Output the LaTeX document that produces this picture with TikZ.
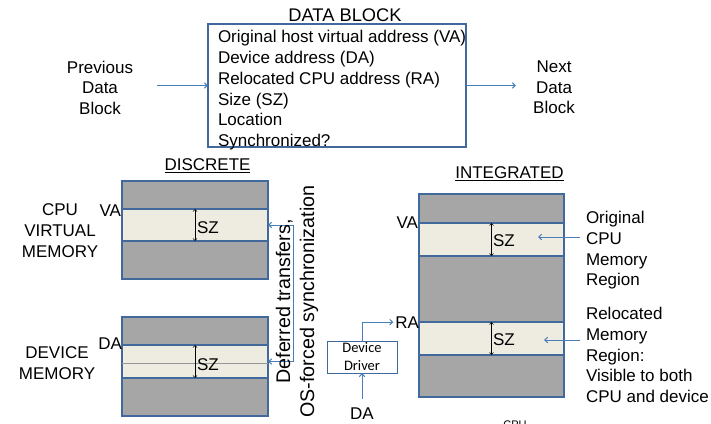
\documentclass[tikz,border=0pt]{standalone}
\usepackage{fontspec}
\setmainfont{Liberation Sans}
\newfontfamily\drvfont{Carlito}
\usetikzlibrary{arrows.meta}

\definecolor{boxblue}{RGB}{65,105,155}
\definecolor{arrowblue}{RGB}{74,126,187}
\definecolor{memgray}{RGB}{166,166,166}
\definecolor{bandfill}{RGB}{238,236,225}
\definecolor{midgray}{RGB}{150,150,150}

\begin{document}
\begin{tikzpicture}[x=1pt,y=-1pt,
  font=\fontsize{17}{20.7}\selectfont,
  lbl/.style={inner sep=0pt, outer sep=0pt, align=center},
  mem/.style={draw=boxblue, fill=memgray, line width=1.2pt, inner sep=0pt, outer sep=0pt, anchor=north west},
  band/.style={draw=boxblue, fill=bandfill, line width=1.2pt, inner sep=0pt, outer sep=0pt, anchor=north west},
  link/.style={draw=arrowblue, line width=1pt, -{Straight Barb[length=3pt,width=5.5pt]}},
  span/.style={draw=black, line width=0.5pt, {Straight Barb[length=2.2pt,width=4pt]}-{Straight Barb[length=2.2pt,width=4pt]}},
]
\useasboundingbox (0,0) rectangle (711,423);

% ---------- data block record ----------
\node[lbl, font=\fontsize{18.3}{22}\selectfont] (title) at (345,15) {DATA BLOCK};
\node[draw=boxblue, line width=1.2pt, inner sep=0pt, outer sep=0pt, anchor=north west,
      minimum width=258pt, minimum height=123pt] (dblock) at (208,24) {};
\node[lbl, align=left, anchor=north west] (fields) at (218,30.6)
  {Original host virtual address (VA)\\Device address (DA)\\Relocated CPU address (RA)\\Size (SZ)\\Location\\Synchronized?};

\node[lbl, anchor=north] (prev) at (100,60.8) {Previous\\Data\\Block};
\node[lbl, anchor=north] (next) at (554,60.8) {Next\\Data\\Block};
\coordinate (prevout) at (157,85.5);
\draw[link] (prevout) -- (dblock.west);
\coordinate (nextin) at (516,85.5);
\draw[link] (dblock.east) -- (nextin);

% ---------- discrete ----------
\node[lbl] (disc) at (207.5,166) {\underline{DISCRETE}};

\node[mem, minimum width=146pt, minimum height=98pt] (cpumem) at (122,181) {};
\node[band, minimum width=146pt, minimum height=32pt] (cpuband) at (122,209) {};
\draw[span] (cpuband.north) -- (cpuband.south);
\node[lbl, anchor=base west] (sz1) at (197,233) {SZ};
\node[lbl, anchor=base east] (va1) at (121,216) {VA};
\node[lbl, anchor=north] (cpuvm) at (60,204) {CPU\\VIRTUAL\\MEMORY};

\node[mem, minimum width=146pt, minimum height=99pt] (devmem) at (122,317) {};
\node[band, minimum width=146pt, minimum height=33pt] (devband) at (122,345) {};
\draw[midgray, line width=0.6pt] ([yshift=-1.5pt]devband.west) -- ([yshift=-1.5pt]devband.east);
\draw[span] (devband.north) -- (devband.south);
\node[lbl, anchor=base west] (sz2) at (197,370) {SZ};
\node[lbl, anchor=base east] (da1) at (122,349) {DA};
\node[lbl, anchor=north] (devm) at (57,347) {DEVICE\\MEMORY};

% transfers between the two address spaces
\draw[link, {Straight Barb[length=3pt,width=5.5pt]}-{Straight Barb[length=3pt,width=5.5pt]}]
  (cpuband.east) -- ++(25,0) |- (devband.east);
\node[lbl, rotate=90, font=\fontsize{19.7}{24}\selectfont] (sync) at (297,301.5)
  {Deferred transfers,\\OS-forced synchronization};

% ---------- integrated ----------
\node[lbl] (integ) at (509.5,174) {\underline{INTEGRATED}};

\node[mem, minimum width=145pt, minimum height=203pt] (intmem) at (419,194) {};
\node[band, minimum width=145pt, minimum height=33pt] (intband1) at (419,223) {};
\node[band, minimum width=145pt, minimum height=33pt] (intband2) at (419,322) {};
\draw[span] (intband1.north) -- (intband1.south);
\draw[span] (intband2.north) -- (intband2.south);
\node[lbl, anchor=base west] (sz3) at (493,246) {SZ};
\node[lbl, anchor=base west] (sz4) at (493,345) {SZ};
\node[lbl, anchor=base east] (va2) at (418,228) {VA};
\node[lbl, anchor=base east] (ralbl) at (419,328) {RA};

\node[lbl, align=left, anchor=north west] (origlbl) at (586,211.5)
  {Original\\CPU\\Memory\\Region};
\node[lbl, align=left, anchor=north west] (reloclbl) at (586,307.3)
  {Relocated\\Memory\\Region:\\Visible to both\\CPU and device};
\coordinate (origtip) at (538,237);
\coordinate (reloctip) at (544,340);
\draw[link] (580,237) coordinate (origtail) -- (origtip);
\draw[link] (580,340) coordinate (reloctail) -- (reloctip);

% device driver relocation
\node[draw=boxblue, line width=1pt, inner sep=0pt, outer sep=0pt,
      minimum width=70pt, minimum height=32pt, align=center,
      font=\drvfont\fontsize{14.5}{18}\selectfont] (drv) at (362,357) {Device\\Driver};
\node[lbl, anchor=base] (da2) at (362,419.5) {DA};
\draw[link] ([yshift=9pt]da2.north) -- (drv.south);
\draw[link] (drv.north) |- ([xshift=-2pt]ralbl.west);

\begin{scope}
  \clip (0,0) rectangle (711,423);
  \node[lbl, anchor=base, font=\fontsize{11}{13}\selectfont] (cpucut) at (515,428.5) {CPU};
\end{scope}
\end{tikzpicture}
\end{document}
